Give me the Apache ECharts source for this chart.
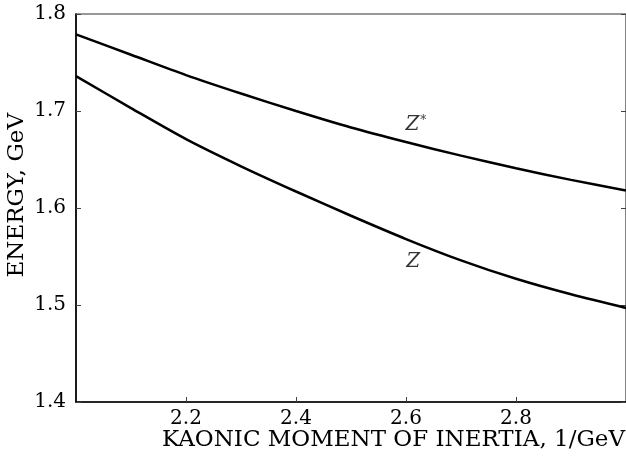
<!DOCTYPE html>
<html><head><meta charset="utf-8">
<script src="https://cdn.jsdelivr.net/npm/echarts@6/dist/echarts.min.js"></script>
<style>html,body{margin:0;padding:0;background:#fff}#c{width:626px;height:458px}</style>
</head><body><div id="c"></div>
<script>
const xValues = [2.0, 2.1, 2.2, 2.3, 2.4, 2.5, 2.6, 2.7, 2.8, 2.9, 3.0];
const zStar   = [1.779, 1.758, 1.737, 1.718, 1.700, 1.683, 1.668, 1.654, 1.641, 1.629, 1.618];
const zVals   = [1.736, 1.703, 1.671, 1.643, 1.617, 1.592, 1.568, 1.546, 1.527, 1.511, 1.497];
const xTicks  = [2.2, 2.4, 2.6, 2.8];
const yTicks  = [1.4, 1.5, 1.6, 1.7, 1.8];
const curveLabels = [
  {name: 'Z*', x: 2.618, y: 1.6856, text: '{i|Z}{s|*}'},
  {name: 'Z',  x: 2.613, y: 1.5443, text: '{i|Z}'}
];
const serif = 'DejaVu Serif';

const chart = echarts.init(document.getElementById('c'), null, {renderer: 'canvas'});
const mk = arr => xValues.map((x, i) => [x, arr[i]]);

chart.setOption({
  animation: false,
  backgroundColor: '#fff',
  grid: {left: 76, top: 14, right: -3, bottom: 56, show: true, borderColor: '#333', borderWidth: 1.2},
  xAxis: [{
    type: 'value', min: 2.0, max: 3.0, interval: 0.2,
    axisLine: {show: true, lineStyle: {color: '#000', width: 1.6}},
    axisTick: {show: true, inside: true, length: 5, lineStyle: {color: '#444', width: 1},
      customValues: xTicks},
    splitLine: {show: false},
    axisLabel: {color: '#000', fontFamily: serif, fontSize: 20, margin: 7,
      customValues: xTicks, formatter: v => v.toFixed(1)}
  }],
  yAxis: [{
    type: 'value', min: 1.4, max: 1.8, interval: 0.1,
    axisLine: {show: true, lineStyle: {color: '#000', width: 1.6}},
    axisTick: {show: true, inside: true, length: 5, lineStyle: {color: '#444', width: 1}},
    splitLine: {show: false},
    axisLabel: {color: '#000', fontFamily: serif, fontSize: 20, margin: 10,
      customValues: yTicks, formatter: v => v.toFixed(1)}
  }, {
    type: 'value', min: 1.4, max: 1.8, interval: 0.1, position: 'right',
    axisLine: {show: false},
    axisTick: {show: true, inside: true, length: 5, lineStyle: {color: '#444', width: 1}},
    splitLine: {show: false},
    axisLabel: {show: false}
  }],
  graphic: [
    {type: 'text', right: 1, top: 429,
      style: {text: 'KAONIC MOMENT OF INERTIA, 1/GeV', font: '23px "DejaVu Serif"', fill: '#000'}},
    {type: 'text', left: 6, top: 113, rotation: Math.PI / 2,
      style: {text: 'ENERGY, GeV', font: '23px "DejaVu Serif"', fill: '#000'}}
  ],
  series: [
    {type: 'line', name: 'Z*', data: mk(zStar), smooth: 0.3, showSymbol: false,
      lineStyle: {color: '#000', width: 2.5}},
    {type: 'line', name: 'Z', data: mk(zVals), smooth: 0.3, showSymbol: false,
      lineStyle: {color: '#000', width: 2.5}},
    {type: 'scatter', data: curveLabels.map(d => ({value: [d.x, d.y], label: {formatter: d.text}})),
      symbolSize: 0, silent: true,
      label: {show: true, position: 'inside', color: '#000',
        rich: {
          i: {fontFamily: serif, fontStyle: 'italic', fontSize: 20, color: '#000'},
          s: {fontFamily: serif, fontSize: 12, color: '#000', verticalAlign: 'top', padding: [0, 0, 9, 1]}
        }}}
  ]
});
</script></body></html>
